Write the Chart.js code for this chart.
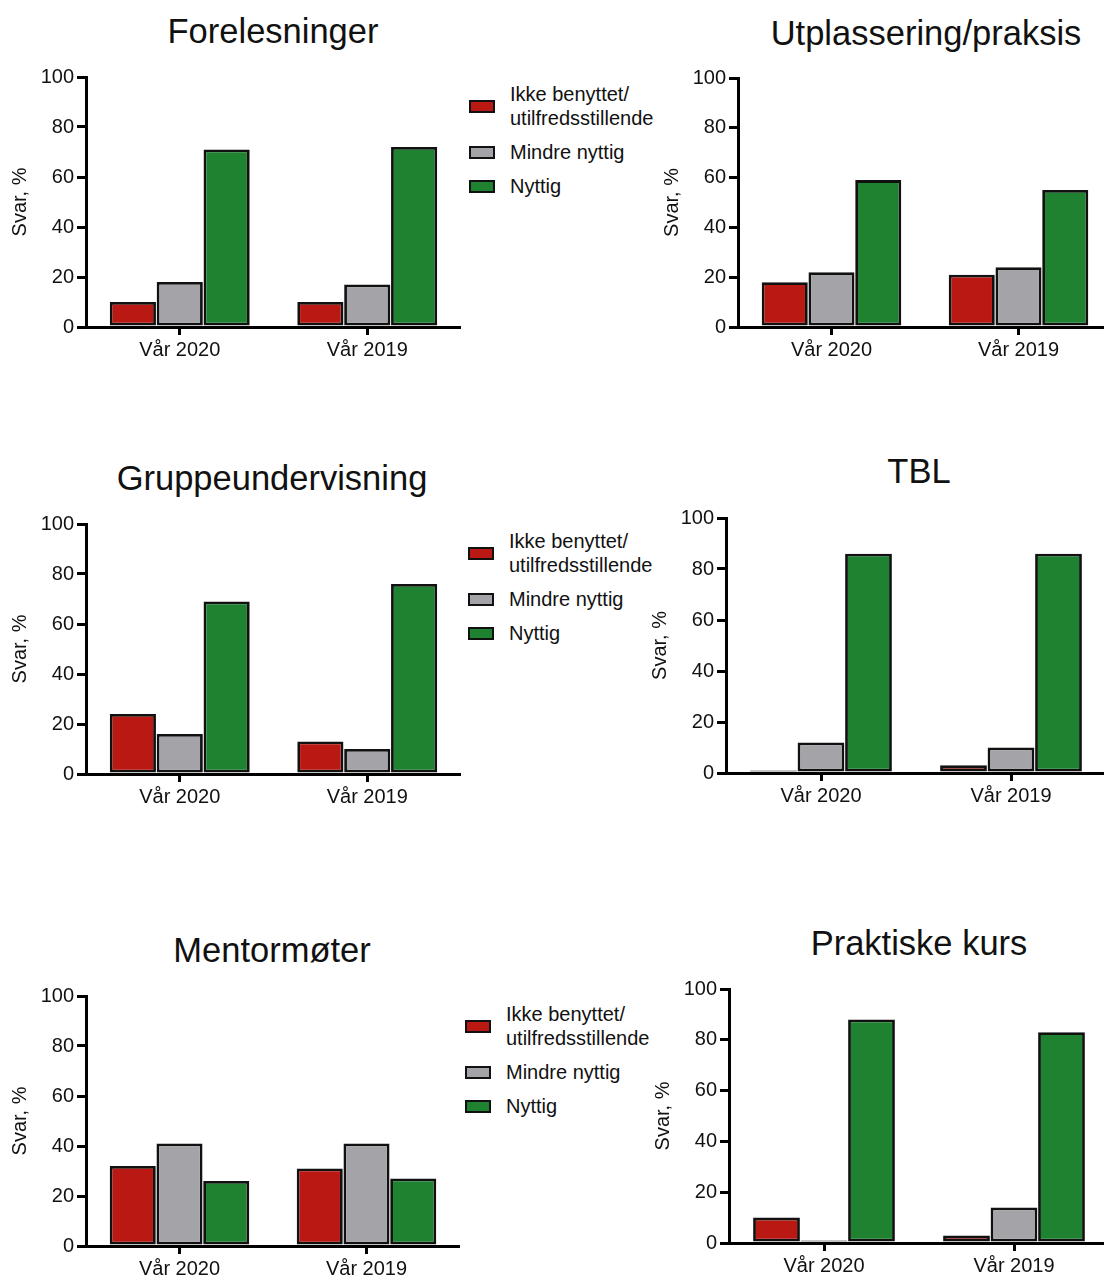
<!DOCTYPE html>
<html>
<head>
<meta charset="utf-8">
<script src="https://cdn.jsdelivr.net/npm/chart.js@4.4.1/dist/chart.umd.min.js"></script>
<style>
  html, body { margin: 0; padding: 0; background: #fff; overflow: hidden; }
  body { width: 1104px; height: 1277px; position: relative; font-family: "Liberation Sans", Arial, sans-serif; color: #111; }
  canvas { position: absolute; }
  .title { position: absolute; font-size: 34.5px; transform: translate(-50%, -50%); white-space: nowrap; }
  .leg { position: absolute; font-size: 20px; line-height: 24px; }
  .leg .sw { position: absolute; width: 22px; height: 9px; border: 2px solid #111; }
  .leg .tx { position: absolute; left: 41px; white-space: nowrap; transform: translateY(-50%); }
</style>
</head>
<body>

<script>
/* ================= DATA ================= */
const categories = ["Vår 2020", "Vår 2019"];
const seriesNames = ["Ikke benyttet/\nutilfredsstillende", "Mindre nyttig", "Nyttig"];
const yTicks = [0, 20, 40, 60, 80, 100];

// Forelesninger
const foreIkke   = [10, 10];
const foreMindre = [18, 17];
const foreNyttig = [71, 72];

// Utplassering/praksis
const utplIkke   = [18, 21];
const utplMindre = [22, 24];
const utplNyttig = [59, 55];

// Gruppeundervisning
const gruppIkke   = [24, 13];
const gruppMindre = [16, 10];
const gruppNyttig = [69, 76];

// TBL
const tblIkke   = [1, 3];
const tblMindre = [12, 10];
const tblNyttig = [86, 86];

// Mentormøter
const mentIkke   = [32, 31];
const mentMindre = [41, 41];
const mentNyttig = [26, 27];

// Praktiske kurs
const prakIkke   = [10, 3];
const prakMindre = [1, 14];
const prakNyttig = [88, 83];

/* ================= STYLE ================= */
const colors = ["#BA1813", "#A4A3A8", "#1E8230"];
const FONT = "'Liberation Sans', Arial, sans-serif";
const Y_AXIS_W = 86;
const PAD_TOP = 16;
const X_AXIS_H = 44;

/* ================= PANELS ================= */
const panels = [
  { title: "Forelesninger",        data: [foreIkke, foreMindre, foreNyttig],   axisX: 86,  top: 77,  bottom: 327,  right: 461,  titleX: 273, titleY: 31,  legend: [469, 94] },
  { title: "Utplassering/praksis", data: [utplIkke, utplMindre, utplNyttig],   axisX: 738, top: 78,  bottom: 327,  right: 1112, titleX: 926, titleY: 33 },
  { title: "Gruppeundervisning",   data: [gruppIkke, gruppMindre, gruppNyttig], axisX: 86, top: 524, bottom: 774,  right: 461,  titleX: 272, titleY: 478, legend: [468, 541] },
  { title: "TBL",                  data: [tblIkke, tblMindre, tblNyttig],      axisX: 726, top: 518, bottom: 773,  right: 1106, titleX: 919, titleY: 471 },
  { title: "Mentormøter",          data: [mentIkke, mentMindre, mentNyttig],   axisX: 86,  top: 996, bottom: 1246, right: 460,  titleX: 272, titleY: 950, legend: [465, 1014] },
  { title: "Praktiske kurs",       data: [prakIkke, prakMindre, prakNyttig],   axisX: 729, top: 989, bottom: 1243, right: 1109, titleX: 919, titleY: 943 }
];

function addTitle(p){
  const d = document.createElement("div");
  d.className = "title";
  d.style.left = p.titleX + "px";
  d.style.top = p.titleY + "px";
  d.textContent = p.title;
  document.body.appendChild(d);
}

function addLegend(x, y){
  const box = document.createElement("div");
  box.className = "leg";
  box.style.left = x + "px";
  box.style.top = y + "px";
  // text line centres and swatch centres, relative to first line
  const lines = [[0, 24], [58], [92]];
  const swatchY = [12, 58, 92];
  seriesNames.forEach((name, i) => {
    const sw = document.createElement("div");
    sw.className = "sw";
    sw.style.background = colors[i];
    sw.style.top = (swatchY[i] - 6.5) + "px";
    box.appendChild(sw);
    name.split("\n").forEach((txt, j) => {
      const t = document.createElement("div");
      t.className = "tx";
      t.style.top = lines[i][j] + "px";
      t.textContent = txt;
      box.appendChild(t);
    });
  });
  document.body.appendChild(box);
}

function makeChart(p){
  const cv = document.createElement("canvas");
  const left = p.axisX - Y_AXIS_W;
  const top = p.top - PAD_TOP;
  const w = p.right - left;
  const h = (p.bottom - p.top) + PAD_TOP + X_AXIS_H;
  cv.width = w; cv.height = h;
  cv.style.left = left + "px";
  cv.style.top = top + "px";
  cv.style.width = w + "px";
  cv.style.height = h + "px";
  document.body.appendChild(cv);

  new Chart(cv.getContext("2d"), {
    type: "bar",
    data: {
      labels: categories,
      datasets: p.data.map((vals, i) => ({
        label: seriesNames[i].replace("\n", " "),
        data: vals,
        backgroundColor: colors[i],
        borderColor: "#111",
        borderWidth: 2.8,
        borderSkipped: false,
        categoryPercentage: 0.75,
        barPercentage: 0.985
      }))
    },
    options: {
      responsive: false,
      animation: false,
      devicePixelRatio: 1,
      layout: { padding: { top: PAD_TOP, right: 0, bottom: 0, left: 0 } },
      plugins: { legend: { display: false }, tooltip: { enabled: false }, title: { display: false } },
      scales: {
        x: {
          type: "category",
          offset: true,
          z: 1,
          grid: { offset: false, drawOnChartArea: false, drawTicks: true, tickLength: 8, tickWidth: 3, color: "#000", lineWidth: 3 },
          border: { display: true, color: "#000", width: 3 },
          ticks: { font: { family: FONT, size: 20 }, color: "#111", padding: 3, maxRotation: 0 },
          afterFit: s => { s.height = X_AXIS_H; }
        },
        y: {
          min: 0,
          max: 100,
          z: 1,
          afterBuildTicks: s => { s.ticks = yTicks.map(v => ({ value: v })); },
          grid: { drawOnChartArea: false, drawTicks: true, tickLength: 9, tickWidth: 3, color: "#000", lineWidth: 3 },
          border: { display: true, color: "#000", width: 3 },
          ticks: { font: { family: FONT, size: 20 }, color: "#111", padding: 3 },
          title: { display: true, text: "Svar, %", font: { family: FONT, size: 20 }, color: "#111", padding: { top: 8, bottom: 0 } },
          afterFit: s => { s.width = Y_AXIS_W; }
        }
      }
    }
  });
}

panels.forEach(p => {
  makeChart(p);
  addTitle(p);
  if (p.legend) addLegend(p.legend[0], p.legend[1]);
});
</script>
</body>
</html>
